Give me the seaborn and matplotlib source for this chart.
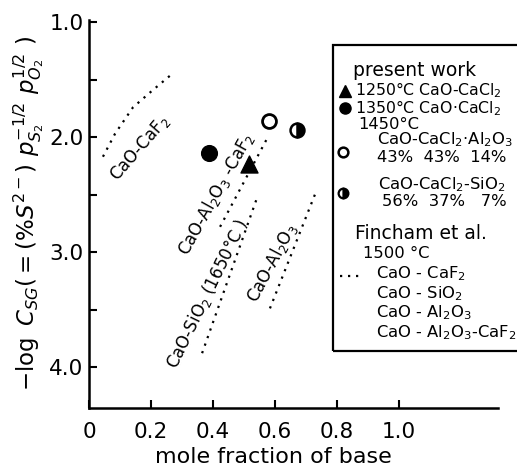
import matplotlib
matplotlib.use('Agg')
import matplotlib.pyplot as plt
import matplotlib.patches as patches
import seaborn as sns

# duomenys nuskaityti nuo paveikslelio
triangle_x = [0.516]
triangle_y = [2.23]
filled_x = [0.387]
filled_y = [2.14]
open_x = [0.58]
open_y = [1.86]
half_x = [0.67]
half_y = [1.94]

caf2_x = [0.045, 0.084, 0.142, 0.206, 0.268]
caf2_y = [2.17, 1.97, 1.74, 1.59, 1.45]
al2o3_caf2_x = [0.423, 0.577]
al2o3_caf2_y = [2.78, 2.00]
sio2_x = [0.365, 0.542]
sio2_y = [3.88, 2.53]
al2o3_x = [0.584, 0.729]
al2o3_y = [3.49, 2.50]

x_ticks = [0, 0.2, 0.4, 0.6, 0.8, 1.0]
x_tick_labels = ['0', '0.2', '0.4', '0.6', '0.8', '1.0']
y_ticks = [1.0, 2.0, 3.0, 4.0]
y_tick_labels = ['1.0', '2.0', '3.0', '4.0']
y_minor = [1.5, 2.5, 3.5]

sns.set_style('ticks')
plt.rcParams['font.family'] = ['DejaVu Sans']
plt.rcParams['mathtext.fontset'] = 'dejavusans'
# viskas juodai, kaip originale
for key in ['text.color', 'axes.labelcolor', 'xtick.color', 'ytick.color', 'axes.edgecolor']:
    plt.rcParams[key] = 'black'

W, H = 517, 473
fig = plt.figure(figsize=(W / 100, H / 100), dpi=100)
ax = fig.add_axes([89 / W, 1 - 408 / H, (498 - 89) / W, (408 - 20) / H])

dots = (0, (1, 2.6))
for lx, ly in [(caf2_x, caf2_y), (al2o3_caf2_x, al2o3_caf2_y), (sio2_x, sio2_y), (al2o3_x, al2o3_y)]:
    sns.lineplot(x=lx, y=ly, ax=ax, color='black', linestyle=dots, linewidth=1.6, sort=False)

sns.scatterplot(x=triangle_x, y=triangle_y, ax=ax, marker='^', s=150, color='black', edgecolor='black')
sns.scatterplot(x=filled_x, y=filled_y, ax=ax, marker='o', s=130, color='black', edgecolor='black')
sns.scatterplot(x=open_x, y=open_y, ax=ax, marker='o', s=100, facecolor='white', edgecolor='black', linewidth=2)
ax.plot(half_x, half_y, marker='o', markersize=10, fillstyle='right', markerfacecolor='black',
        markerfacecoloralt='white', markeredgecolor='black', markeredgewidth=1.8, linestyle='none')

# uzrasai prie liniju
lab = dict(ha='center', va='center', fontsize=12, rotation_mode='anchor')
ax.text(0.165, 2.09, 'CaO-CaF$_2$', rotation=49, **lab)
ax.text(0.41, 2.49, 'CaO-Al$_2$O$_3$ -CaF$_2$', rotation=61, **lab)
ax.text(0.381, 3.36, 'CaO-SiO$_2$ (1650°C )', rotation=64, **lab)
ax.text(0.59, 3.09, 'CaO-Al$_2$O$_3$', rotation=62, **lab)

ax.set_xlim(0, 1.32)
ax.set_ylim(4.357, 0.98)
ax.set_xticks(x_ticks)
ax.set_xticklabels(x_tick_labels, fontsize=15.5)
ax.set_yticks(y_ticks)
ax.set_yticklabels(y_tick_labels, fontsize=15.5)
ax.set_yticks(y_minor, minor=True)
ax.tick_params(axis='both', which='both', direction='in', length=6, width=1.5, pad=10)
ax.tick_params(axis='y', pad=4)
sns.despine(ax=ax)
for side in ['left', 'bottom']:
    ax.spines[side].set_linewidth(1.8)

ax.set_xlabel('mole fraction of base', fontsize=16, labelpad=4, x=0.45)
ax.set_ylabel(r'$-\log\ C_{SG}(=(\%S^{2-})\ p_{S_2}^{-1/2}\ p_{O_2}^{1/2}\ )$', fontsize=16.5, labelpad=2)

# legenda piesiama ranka
def px(x, y):
    return x / W, 1 - y / H

box = patches.Rectangle(px(333, 351), (540 - 333) / W, (351 - 45) / H, transform=fig.transFigure,
                        fill=False, edgecolor='black', linewidth=1.6, clip_on=False)
fig.patches.append(box)

def legtext(x, y, s, fs=11.8):
    fig.text(*px(x, y), s, fontsize=fs, ha='left', va='center')

legtext(353, 71, 'present work', 13.5)
legtext(355, 90, '1250°C CaO-CaCl$_2$', 11.3)
legtext(355, 108, '1350°C CaO·CaCl$_2$', 11.3)
legtext(358, 124, '1450°C')
legtext(377, 140, 'CaO-CaCl$_2$·Al$_2$O$_3$')
legtext(377, 157, '43%  43%  14%')
legtext(378, 185, 'CaO-CaCl$_2$-SiO$_2$')
legtext(382, 202, '56%  37%   7%')
legtext(355, 233, 'Fincham et al.', 13.5)
legtext(363, 253, '1500 °C')
legtext(376, 274, 'CaO - CaF$_2$')
legtext(376, 294, 'CaO - SiO$_2$')
legtext(376, 313, 'CaO - Al$_2$O$_3$')
legtext(376, 333, 'CaO - Al$_2$O$_3$-CaF$_2$')

fig.lines.append(plt.Line2D([345 / W], [1 - 91 / H], marker='^', markersize=9, color='black', transform=fig.transFigure))
fig.lines.append(plt.Line2D([345 / W], [1 - 108 / H], marker='o', markersize=8, color='black', transform=fig.transFigure))
fig.lines.append(plt.Line2D([343 / W], [1 - 152 / H], marker='o', markersize=7, markerfacecolor='white',
                            markeredgecolor='black', markeredgewidth=1.8, transform=fig.transFigure))
fig.lines.append(plt.Line2D([343 / W], [1 - 193 / H], marker='o', markersize=7, fillstyle='right',
                            markerfacecolor='black', markerfacecoloralt='white', markeredgecolor='black',
                            markeredgewidth=1.6, transform=fig.transFigure))
fig.lines.append(plt.Line2D([340 / W, 364 / W], [1 - 276 / H, 1 - 276 / H], color='black', linestyle=dots,
                            linewidth=1.6, transform=fig.transFigure))

fig.savefig('out.png', dpi=100)
